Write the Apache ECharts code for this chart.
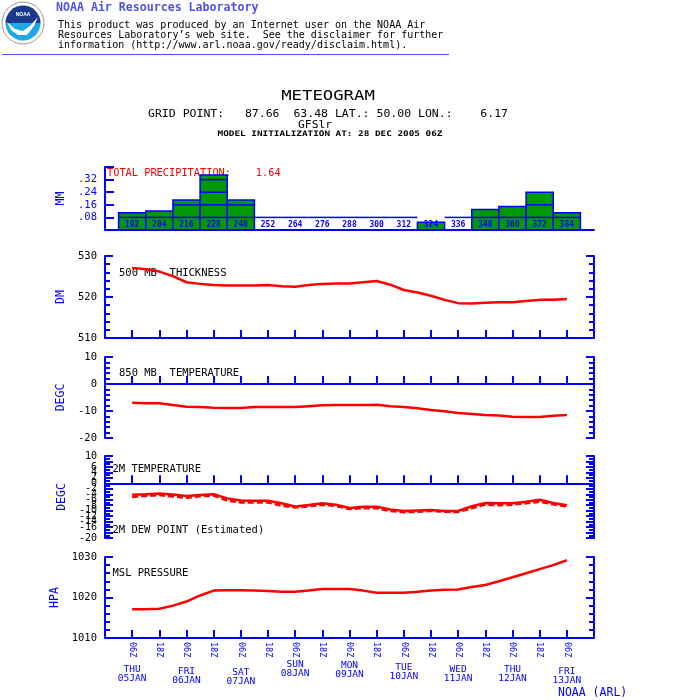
<!DOCTYPE html>
<html><head><meta charset="utf-8">
<script src="https://cdn.jsdelivr.net/npm/echarts@6/dist/echarts.min.js"></script>
<style>html,body{margin:0;padding:0;background:#fff}#c{width:700px;height:700px}</style>
</head><body><div id="c"></div><script>
// ---------------- data ----------------
const hours = [192,198,204,210,216,222,228,234,240,246,252,258,264,270,276,282,288,294,300,306,312,318,324,330,336,342,348,354,360,366,372,378,384];
const thickness500 = [527.1,526.8,526.2,525.1,523.6,523.2,522.9,522.8,522.8,522.8,522.9,522.6,522.5,522.9,523.2,523.3,523.3,523.6,523.9,523.0,521.7,521.1,520.3,519.3,518.5,518.4,518.6,518.7,518.7,519.0,519.3,519.3,519.5];
const temp850 = [-6.95,-7.1,-7.1,-7.8,-8.4,-8.5,-8.8,-8.9,-8.9,-8.5,-8.5,-8.5,-8.5,-8.2,-7.9,-7.8,-7.8,-7.8,-7.7,-8.2,-8.5,-9.0,-9.6,-10.1,-10.7,-11.1,-11.5,-11.7,-12.1,-12.2,-12.2,-11.8,-11.5];
const temp2m = [-4.2,-4.0,-3.7,-4.1,-4.6,-4.3,-4.0,-5.5,-6.3,-6.4,-6.4,-7.3,-8.5,-7.9,-7.3,-7.8,-9.0,-8.6,-8.6,-9.6,-10.1,-9.9,-9.8,-10.1,-10.1,-8.4,-7.2,-7.3,-7.3,-6.7,-6.0,-7.2,-8.0];
const dew2m = [-5.0,-4.6,-4.3,-4.8,-5.3,-4.7,-4.5,-6.3,-7.0,-7.0,-7.0,-8.2,-8.8,-8.4,-7.8,-8.3,-9.4,-9.1,-9.1,-10.1,-10.6,-10.4,-10.1,-10.4,-10.5,-9.1,-7.8,-8.0,-7.8,-7.3,-6.7,-7.7,-8.4];
const mslp = [1017.1,1017.1,1017.2,1018.0,1019.0,1020.5,1021.7,1021.8,1021.8,1021.7,1021.6,1021.4,1021.4,1021.7,1022.1,1022.1,1022.1,1021.7,1021.2,1021.2,1021.2,1021.4,1021.7,1021.9,1022.0,1022.6,1023.1,1024.0,1025.0,1026.0,1027.0,1028.0,1029.2];
const precipHours = [192,204,216,228,240,252,264,276,288,300,312,324,336,348,360,372,384];
const precipMM = [0.11,0.12,0.19,0.35,0.19,0,0,0,0,0,0,0.05,0,0.13,0.15,0.24,0.11];
const tickHours = [192,204,216,228,240,252,264,276,288,300,312,324,336,348,360,372,384];
const tickLabels = ['06Z','18Z','06Z','18Z','06Z','18Z','06Z','18Z','06Z','18Z','06Z','18Z','06Z','18Z','06Z','18Z','06Z'];
const dayHours = [192,216,240,264,288,312,336,360,384];
const dayNames = ['THU','FRI','SAT','SUN','MON','TUE','WED','THU','FRI'];
const dayDates = ['05JAN','06JAN','07JAN','08JAN','09JAN','10JAN','11JAN','12JAN','13JAN'];

// ---------------- styling ----------------
const BLUE = '#0000ff', RED = '#ff0000', HDR = '#5050f0';
const MONO = '"DejaVu Sans Mono", "Liberation Mono", monospace';
const xMin = 180, xMax = 396, xStep = 12, precipTick = 0.08;
const daySpacer = [7, 8.7, 9.7, 2, 3, 4.3, 6.3, 7, 8.7];

const pairs = arr => hours.map((h, i) => [h, arr[i]]);

const grids = [
  {top:167, height:63}, {top:256, height:82}, {top:357, height:81}, {top:456, height:82}, {top:557, height:81}
].map(g => Object.assign({left:105, width:489, show:false, borderWidth:0, containLabel:false, outerBoundsMode:'none'}, g));

function xBase(gi, extra) {
  return Object.assign({
    type:'value', gridIndex:gi, min:xMin, max:xMax, interval:xStep, position:'bottom',
    splitLine:{show:false},
    axisLine:{show:true, onZero:true, lineStyle:{color:BLUE, width:2}},
    axisTick:{show:true, inside:true, length:8, lineStyle:{color:BLUE, width:2}},
    axisLabel:{show:false}
  }, extra || {});
}

function yBase(gi, min, max, interval, minorSplit, position) {
  return {
    type:'value', gridIndex:gi, min, max, interval, position,
    splitLine:{show:false},
    axisLine:{show:true, onZero:false, lineStyle:{color:BLUE, width:2}},
    axisTick:{show:true, inside:true, length:8, lineStyle:{color:BLUE, width:2}},
    minorTick:{show:minorSplit > 0, splitNumber:minorSplit || 5, length:5, lineStyle:{color:BLUE, width:2}},
    axisLabel:{show:false}
  };
}
function yLeft(gi, min, max, interval, minorSplit, name, labelColor, fontSize) {
  return Object.assign(yBase(gi, min, max, interval, minorSplit, 'left'), {
    name, nameLocation:'middle', nameGap:36, nameRotate:90,
    nameTextStyle:{color:BLUE, fontFamily:MONO, fontSize:11.5},
    axisLabel:{show:true, color:labelColor, fontFamily:MONO, fontSize:fontSize || 10.5, margin:8,
      showMinLabel:true, showMaxLabel:true, hideOverlap:false, formatter: v => String(v)}
  });
}

const panels = [
  // [min, max, interval, minorSplit, name]
  [510, 530, 10, 5, 'DM'],
  [-20, 10, 10, 5, 'DEGC'],
  [-20, 10, 2, 2, 'DEGC'],
  [1010, 1030, 10, 5, 'HPA']
];

const yAxes = [];
const py = yLeft(0, 0, 0.4, precipTick, 0, 'MM', BLUE);
py.axisTick.length = 9;
py.axisLabel.formatter = v => (v > 0.001 && v < 0.39) ? v.toFixed(2).replace(/^0/, '') : '';
yAxes.push(py);                                                   // 0
panels.forEach((p, i) => {                                        // left: 1,3,5,7  right: 2,4,6,8
  yAxes.push(yLeft(i + 1, p[0], p[1], p[2], p[3], p[4], '#000', i === 2 ? 10 : 10.5));
  yAxes.push(yBase(i + 1, p[0], p[1], p[2], p[3], 'right'));
});

const rich = {d:{fontFamily:MONO, fontSize:9.5, lineHeight:9, color:BLUE}};
daySpacer.forEach((s, i) => { rich['s' + i] = {fontSize:1, lineHeight:s}; });

const xAxes = [
  xBase(0, {z:5, axisTick:{show:false}, axisLabel:{show:true, inside:true, margin:1, color:BLUE, fontFamily:MONO, fontSize:8, fontWeight:'bold',
    formatter: v => precipHours.indexOf(v) >= 0 ? String(v) : ''}}),
  xBase(1), xBase(2), xBase(3),
  xBase(4, {axisLabel:{show:true, rotate:-90, margin:4, color:BLUE, fontFamily:MONO, fontSize:8.5,
    formatter: v => { const i = tickHours.indexOf(v); return i >= 0 ? tickLabels[i] : ''; }}}),
  xBase(4, {axisLine:{show:false}, axisTick:{show:false},
    axisLabel:{show:true, margin:20.5, color:BLUE, rich,
      formatter: v => { const i = dayHours.indexOf(v); return i < 0 ? '' : '{s' + i + '| }\n{d|' + dayNames[i] + '}\n{d|' + dayDates[i] + '}'; }}})
];

const totalPrecip = precipMM.reduce((a, b) => a + b, 0);

function precipRender(params, api) {
  const h = api.value(0), v = api.value(1);
  const p0 = api.coord([h - xStep / 2, 0]);
  const p1 = api.coord([h + xStep / 2, v]);
  const st = {stroke:BLUE, lineWidth:1.5};
  const children = [];
  if (v > 0) {
    children.push({type:'rect', shape:{x:p0[0], y:p1[1], width:p1[0] - p0[0], height:p0[1] - p1[1]}, style:{fill:'#009900', stroke:BLUE, lineWidth:1.5}});
    for (let k = precipTick; k < v - 0.025; k += precipTick) {
      const q = api.coord([h, k]);
      children.push({type:'line', shape:{x1:p0[0], y1:q[1], x2:p1[0], y2:q[1]}, style:st});
    }
  } else {
    const q = api.coord([h, precipTick]);
    children.push({type:'line', shape:{x1:p0[0], y1:q[1], x2:p1[0], y2:q[1]}, style:st});
  }
  return {type:'group', children};
}

const lineS = (xi, yi, data, dashed) => ({
  type:'line', xAxisIndex:xi, yAxisIndex:yi, data, showSymbol:false, symbol:'none', silent:true, z:4,
  lineStyle:{color:RED, width:2.5, type: dashed ? [6, 3] : 'solid'}, animation:false
});

function txt(text, x, y, font, fill, align, sx) {
  return {type:'text', silent:true, x, y, scaleX: sx || 1, style:{text, x:0, y:0, font, fill: fill || '#000',
    textAlign: align || 'left', align: align || 'left', textVerticalAlign:'middle', verticalAlign:'middle'}};
}

const graphic = [
  {type:'group', x:2, y:2, silent:true, children:[
    {type:'circle', shape:{cx:21, cy:21, r:21}, style:{fill:'#fff', stroke:'#9a9a9a', lineWidth:1}},
    {type:'circle', shape:{cx:21, cy:21, r:17.5}, style:{fill:{type:'linear', x:0, y:0, x2:0, y2:1, colorStops:[
      {offset:0, color:'#1c3a8c'}, {offset:0.5, color:'#1c3a8c'}, {offset:0.5, color:'#1fa8e8'}, {offset:1, color:'#1fa8e8'}]}}},
    {type:'polygon', shape:{points:[[5,20],[13,27],[21,29],[28,24],[36,15],[32,24],[25,33],[16,33],[9,28]]}, style:{fill:'#fff'}},
    {type:'text', style:{text:'NOAA', x:21, y:13, font:'bold 5px sans-serif', fill:'#fff', textAlign:'center', align:'center', textVerticalAlign:'middle', verticalAlign:'middle'}}
  ]},
  txt('NOAA Air Resources Laboratory', 56, 8, 'bold 11.6px ' + MONO, HDR),
  txt('This product was produced by an Internet user on the NOAA Air', 58, 25, '10px ' + MONO, '#000'),
  txt('Resources Laboratory\u2019s web site.  See the disclaimer for further', 58, 35.5, '10px ' + MONO, '#000'),
  txt('information (http://www.arl.noaa.gov/ready/disclaim.html).', 58, 45.5, '10px ' + MONO, '#000'),
  {type:'line', silent:true, shape:{x1:2, y1:54.5, x2:449, y2:54.5}, style:{stroke:HDR, lineWidth:1}},
  txt('METEOGRAM', 328, 96, '13.5px ' + MONO, '#000', 'center', 1.28),
  txt('GRID POINT:   87.66  63.48 LAT.: 50.00 LON.:    6.17', 328, 114.5, '10.5px ' + MONO, '#000', 'center', 1.095),
  txt('GFSlr', 298, 125.5, '10.5px ' + MONO, '#000', 'left', 1.08),
  txt('MODEL INITIALIZATION AT: 28 DEC 2005 06Z', 330, 134, 'bold 7.6px ' + MONO, '#000', 'center', 1.23),
  txt('TOTAL PRECIPITATION:    ' + totalPrecip.toFixed(2), 107, 173, '10.3px ' + MONO, RED),
  txt('500 MB  THICKNESS', 119, 273, '10.5px ' + MONO, '#000'),
  txt('850 MB  TEMPERATURE', 119, 373, '10.5px ' + MONO, '#000'),
  txt('2M TEMPERATURE', 112.5, 469, '10.5px ' + MONO, '#000'),
  txt('2M DEW POINT (Estimated)', 112.5, 530, '10.5px ' + MONO, '#000'),
  txt('MSL PRESSURE', 112.5, 573, '10.5px ' + MONO, '#000'),
  txt('NOAA (ARL)', 558, 693, '11.5px ' + MONO, BLUE)
];

const option = {
  backgroundColor:'#fff', animation:false,
  grid: grids, xAxis: xAxes, yAxis: yAxes, graphic,
  series: [
    {type:'custom', xAxisIndex:0, yAxisIndex:0, renderItem:precipRender, silent:true, z:2,
      data: precipHours.map((h, i) => [h, precipMM[i]]), encode:{x:0, y:1}},
    lineS(1, 1, pairs(thickness500)),
    lineS(2, 3, pairs(temp850)),
    lineS(3, 5, pairs(temp2m)),
    lineS(3, 5, pairs(dew2m), true),
    lineS(4, 7, pairs(mslp))
  ]
};
const chart = echarts.init(document.getElementById('c'), null, {renderer:'canvas'});
chart.setOption(option);
</script></body></html>
